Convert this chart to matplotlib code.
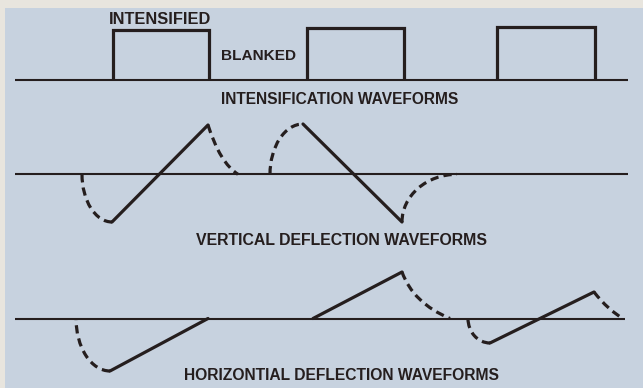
import matplotlib
matplotlib.use("Agg")
import numpy as np
import matplotlib.pyplot as plt
from matplotlib.patches import Arc, PathPatch, Rectangle
from matplotlib.path import Path
from matplotlib import font_manager

W, H, DPI = 643, 388, 100

# ---------------- data (diagram units: x to the right, y downward) ----------------
row_baseline = [79.5, 174.3, 318.5]
row_start = [15, 15, 15]
row_end = [628, 628, 625]

# intensification pulses
pulse_start = [113, 307, 497]
pulse_end = [209, 404, 595]
pulse_top = [29.5, 28.3, 27.3]

# vertical deflection: solid traces
vert_trace_x = [[112, 208], [303, 402]]
vert_trace_y = [[222, 125], [124, 222]]
# vertical deflection: dashed retraces (start, end, control or None = quarter ellipse)
vert_retrace = [
    ((82, 174.3), (112, 222), None),
    ((208, 125), (238, 174.3), (220, 163)),
    ((270, 174.3), (303, 124), None),
    ((402, 222), (457, 174.3), None),
]

# horizontal deflection: solid traces
horiz_trace_x = [[110, 208], [313, 402], [490, 594]]
horiz_trace_y = [[371, 318.5], [318.5, 272], [343, 292]]
horiz_retrace = [
    ((76, 318.5), (110, 371), None),
    ((402, 272), (450, 318.5), (413, 303)),
    ((468, 318.5), (490, 343), None),
    ((594, 292), (623, 318.5), (608, 310)),
]

# labels: text, left, right, baseline
labels = [
    ("INTENSIFIED", 110, 211, 23.8),
    ("BLANKED", 221, 296, 60),
    ("INTENSIFICATION WAVEFORMS", 221, 458, 103.8),
    ("VERTICAL DEFLECTION WAVEFORMS", 195, 487, 245),
    ("HORIZONTIAL DEFLECTION WAVEFORMS", 184, 500, 380),
]

# ---------------- styling ----------------
INK = "#251e1e"
PANEL = "#c7d2df"
PAPER = "#e8e5de"
LW_BASE = 1.5
LW_WAVE = 2.3
DASH = (0, (2.6, 1.6))

available = {f.name for f in font_manager.fontManager.ttflist}
FAMILY = [f for f in ["Liberation Sans Narrow", "Liberation Sans", "DejaVu Sans"] if f in available]

fig = plt.figure(figsize=(W / DPI, H / DPI), dpi=DPI, facecolor=PAPER)
ax = fig.add_axes([0, 0, 1, 1])
ax.set_xlim(0, W)
ax.set_ylim(H, 0)
ax.axis("off")

ax.add_patch(Rectangle((5, 8), W - 5, H - 8, facecolor=PANEL, edgecolor="none", zorder=0))

# baselines
for y, x0, x1 in zip(row_baseline, row_start, row_end):
    ax.plot([x0, x1], [y, y], color=INK, lw=LW_BASE, solid_capstyle="butt", zorder=2)

# pulses
for xs, xe, top in zip(pulse_start, pulse_end, pulse_top):
    y0 = row_baseline[0]
    ax.plot([xs, xs, xe, xe], [y0, top, top, y0], color=INK, lw=LW_WAVE,
             solid_joinstyle="miter", solid_capstyle="butt", zorder=3)


def draw_retrace(p0, p1, ctrl):
    if ctrl is None:
        # quarter ellipse: vertical tangent at p0, horizontal tangent at p1
        cx, cy = p1[0], p0[1]
        rx, ry = abs(p1[0] - p0[0]), abs(p1[1] - p0[1])
        a0 = np.degrees(np.arctan2((p0[1] - cy) / ry, (p0[0] - cx) / rx)) % 360
        a1 = np.degrees(np.arctan2((p1[1] - cy) / ry, (p1[0] - cx) / rx)) % 360
        if (a1 - a0) % 360 == 90:
            t1, t2 = a0, a1
        else:
            t1, t2 = a1, a0
        ax.add_patch(Arc((cx, cy), 2 * rx, 2 * ry, theta1=t1, theta2=t2, color=INK,
                         lw=LW_WAVE, linestyle=DASH, zorder=3, capstyle="butt"))
    else:
        path = Path([p0, ctrl, p1], [Path.MOVETO, Path.CURVE3, Path.CURVE3])
        ax.add_patch(PathPatch(path, fill=False, edgecolor=INK, lw=LW_WAVE,
                               linestyle=DASH, zorder=3, capstyle="butt"))


for xs, ys in zip(vert_trace_x, vert_trace_y):
    ax.plot(xs, ys, color=INK, lw=LW_WAVE, solid_capstyle="round", zorder=3)
for p0, p1, c in vert_retrace:
    draw_retrace(p0, p1, c)

for xs, ys in zip(horiz_trace_x, horiz_trace_y):
    ax.plot(xs, ys, color=INK, lw=LW_WAVE, solid_capstyle="round", zorder=3)
for p0, p1, c in horiz_retrace:
    draw_retrace(p0, p1, c)

# labels, sized to their measured widths
fig.canvas.draw()
renderer = fig.canvas.get_renderer()
for s, x0, x1, yb in labels:
    t = ax.text((x0 + x1) / 2, yb, s, ha="center", va="baseline", fontsize=10,
                fontweight="bold", family=FAMILY, color=INK, zorder=4)
    w = t.get_window_extent(renderer).width
    t.set_fontsize(10 * (x1 - x0) / w)

fig.savefig("out.png", dpi=DPI, facecolor=PAPER)
